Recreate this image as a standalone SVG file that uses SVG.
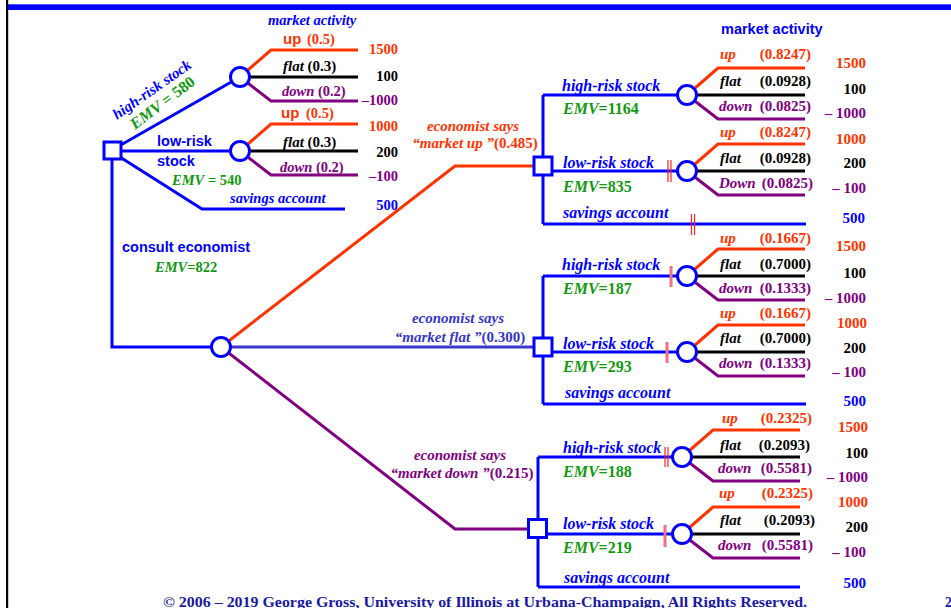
<svg xmlns="http://www.w3.org/2000/svg" xmlns:xlink="http://www.w3.org/1999/xlink" width="951" height="608" viewBox="0 0 951 608">
  <style>
    .ser { font-family: "Liberation Serif", "Times New Roman", serif; font-weight: bold; }
    .san { font-family: "Liberation Sans", Arial, sans-serif; font-weight: bold; }
    .it { font-style: italic; }
    .up { fill: #ff3300; }
    .fl { fill: #000000; }
    .dn { fill: #800080; }
    .bl { fill: #0000ff; }
    .gr { fill: #119911; }
    .mb { fill: #3535c8; }
    .ln { fill: none; stroke-width: 3; stroke-linejoin: miter; }
    .lb { stroke: #0000ff; }
    .lr { stroke: #ff3300; }
    .lk { stroke: #000000; }
    .lp { stroke: #800080; }
    .lm { stroke: #3838cc; }
    .dec { fill: #ffffff; stroke: #0000ff; stroke-width: 3; }
    .chn { fill: #ffffff; stroke: #0000ff; stroke-width: 3; }
    .tk2 { stroke: #ff2020; stroke-width: 1.2; }
    .tk1 { stroke: #f07088; stroke-width: 3; }
    .f14 { font-size: 14.5px; }
    .f15 { font-size: 15px; }
    .f16 { font-size: 16px; }
  </style>
  <defs>
    <!-- chance node with its up / flat / down outcome branches -->
    <g id="fan">
      <path class="ln lr" d="M0,0 L31,-27 L118,-27"/>
      <path class="ln lk" d="M0,0 L118,0"/>
      <path class="ln lp" d="M0,0 L31,24 L118,24"/>
      <circle class="chn" cx="0" cy="0" r="9.5"/>
    </g>
  </defs>

  <!-- page frame -->
  <rect x="6" y="0" width="2.2" height="608" fill="#000000"/>
  <rect x="8" y="4.3" width="943" height="5.7" fill="#0000ff"/>

  <!-- connectors -->
  <g id="connectors">
    <!-- first decision: invest directly -->
    <path class="ln lb" d="M112,150 L240,77"/>
    <path class="ln lb" d="M112,151 L240,151"/>
    <path class="ln lb" d="M112,152 L202,209 L345,209"/>
    <path class="ln lb" d="M112,151 L112,347 L221,347"/>
    <!-- economist forecast branches -->
    <path class="ln lr" d="M221,347 L455,166 L543,166"/>
    <path class="ln lm" d="M221,347 L543,347"/>
    <path class="ln lp" d="M221,347 L455,529 L537,529"/>
    <!-- decisions after "market up" -->
    <path class="ln lb" d="M543,95 L543,224 M543,95 L687,95 M543,171 L687,171 M543,224 L806,224"/>
    <!-- decisions after "market flat" -->
    <path class="ln lb" d="M543,276 L543,404 M543,276 L687,276 M543,352 L687,352 M543,404 L806,404"/>
    <!-- decisions after "market down" -->
    <path class="ln lb" d="M538,457 L538,587 M538,457 L682,457 M538,534 L682,534 M538,587 L800,587"/>
    <!-- pruned branch marks -->
    <path class="tk2" d="M668,160 V182 M671,160 V182 M691.5,214 V235 M694.5,214 V235 M665,447 V467 M668,447 V467"/>
    <path class="tk1" d="M671,266 V287 M667,342 V363 M665,525 V547"/>
  </g>

  <!-- decision nodes -->
  <g id="decision-root"><rect class="dec" x="104" y="142" width="17" height="17"/></g>
  <g id="decision-up"><rect class="dec" x="534" y="157" width="18" height="18"/></g>
  <g id="decision-flat"><rect class="dec" x="534" y="338" width="18" height="18"/></g>
  <g id="decision-down"><rect class="dec" x="528.5" y="519.5" width="18" height="18"/></g>

  <!-- forecast chance node -->
  <g id="chance-forecast"><circle class="chn" cx="221" cy="347" r="9.5"/></g>

  <!-- market chance nodes -->
  <g id="chance-a"><use xlink:href="#fan" href="#fan" x="240" y="77"/></g>
  <g id="chance-b"><use xlink:href="#fan" href="#fan" x="240" y="151"/></g>
  <g id="chance-1"><use xlink:href="#fan" href="#fan" x="687" y="95"/></g>
  <g id="chance-2"><use xlink:href="#fan" href="#fan" x="687" y="171"/></g>
  <g id="chance-3"><use xlink:href="#fan" href="#fan" x="687" y="276"/></g>
  <g id="chance-4"><use xlink:href="#fan" href="#fan" x="687" y="352"/></g>
  <g id="chance-5"><use xlink:href="#fan" href="#fan" x="682" y="457"/></g>
  <g id="chance-6"><use xlink:href="#fan" href="#fan" x="682" y="534"/></g>

  <!-- labels: direct investment -->
  <g id="labels-direct">
    <text class="ser it bl f14" x="268" y="25">market activity</text>
    <text class="ser it bl f15" transform="translate(117,120) rotate(-35)">high-risk stock</text>
    <text class="ser gr f16" transform="translate(135,130) rotate(-37)"><tspan class="it">EMV</tspan> = 580</text>
    <text class="san bl f14" x="157" y="146">low-risk</text>
    <text class="san bl f14" x="157" y="166">stock</text>
    <text class="ser gr f14" x="172" y="185"><tspan class="it">EMV</tspan> = 540</text>
    <text class="ser it bl f14" x="230" y="203">savings account</text>

    <text class="san up f15" x="283" y="44">up</text>
    <text class="ser up f14" x="307" y="44">(0.5)</text>
    <text class="ser fl f15" x="283" y="71"><tspan class="it">flat</tspan> (0.3)</text>
    <text class="ser dn f14" x="282" y="96"><tspan class="it">down</tspan> (0.2)</text>
    <text class="san up f15" x="281" y="118">up</text>
    <text class="ser up f14" x="306" y="118">(0.5)</text>
    <text class="ser fl f15" x="283" y="147"><tspan class="it">flat</tspan> (0.3)</text>
    <text class="ser dn f14" x="280" y="172"><tspan class="it">down</tspan> (0.2)</text>

    <g class="ser f14" text-anchor="end">
      <text class="up" x="398" y="54">1500</text>
      <text class="fl" x="398" y="81">100</text>
      <text class="dn" x="398" y="105">–1000</text>
      <text class="up" x="398" y="131">1000</text>
      <text class="fl" x="398" y="157">200</text>
      <text class="dn" x="398" y="181">–100</text>
      <text class="bl" x="398" y="210">500</text>
    </g>

    <text class="san bl f14" x="122" y="252">consult economist</text>
    <text class="ser gr f14" x="155" y="272"><tspan class="it">EMV</tspan>=822</text>
  </g>

  <!-- labels: economist forecasts -->
  <g id="labels-forecast" class="ser f15" text-anchor="middle">
    <text class="it up" x="473" y="131">economist says</text>
    <text class="up" x="475" y="148"><tspan class="it">“market up ”</tspan>(0.485)</text>
    <text class="it mb" x="458" y="323">economist says</text>
    <text class="mb" x="460" y="342"><tspan class="it">“market flat ”</tspan>(0.300)</text>
    <text class="it dn" x="460" y="460">economist says</text>
    <text class="dn" x="462" y="478"><tspan class="it">“market down ”</tspan>(0.215)</text>
  </g>

  <!-- labels: decisions after the forecast -->
  <g id="labels-decisions" class="ser f16">
    <text class="it bl" x="562" y="91">high-risk stock</text>
    <text class="gr" x="563" y="114"><tspan class="it">EMV</tspan>=1164</text>
    <text class="it bl" x="563" y="168">low-risk stock</text>
    <text class="gr" x="563" y="192"><tspan class="it">EMV</tspan>=835</text>
    <text class="it bl" x="563" y="218">savings account</text>

    <text class="it bl" x="562" y="270">high-risk stock</text>
    <text class="gr" x="563" y="294"><tspan class="it">EMV</tspan>=187</text>
    <text class="it bl" x="563" y="349">low-risk stock</text>
    <text class="gr" x="563" y="372"><tspan class="it">EMV</tspan>=293</text>
    <text class="it bl" x="565" y="398">savings account</text>

    <text class="it bl" x="563" y="453">high-risk stock</text>
    <text class="gr" x="563" y="477"><tspan class="it">EMV</tspan>=188</text>
    <text class="it bl" x="563" y="529">low-risk stock</text>
    <text class="gr" x="563" y="553"><tspan class="it">EMV</tspan>=219</text>
    <text class="it bl" x="564" y="583">savings account</text>
  </g>

  <!-- labels: posterior market outcomes -->
  <g id="labels-outcomes" class="ser f15">
    <text class="san bl f14" x="721" y="34">market activity</text>

    <text class="it up" x="720" y="59">up</text>
    <text class="it fl" x="720" y="86">flat</text>
    <text class="it dn" x="719" y="111">down</text>
    <text class="it up" x="720" y="137">up</text>
    <text class="it fl" x="720" y="163">flat</text>
    <text class="it dn" x="719" y="188">Down</text>

    <text class="it up" x="720" y="243">up</text>
    <text class="it fl" x="720" y="269">flat</text>
    <text class="it dn" x="719" y="293">down</text>
    <text class="it up" x="720" y="318">up</text>
    <text class="it fl" x="720" y="343">flat</text>
    <text class="it dn" x="719" y="368">down</text>

    <text class="it up" x="722" y="423">up</text>
    <text class="it fl" x="720" y="450">flat</text>
    <text class="it dn" x="718" y="473">down</text>
    <text class="it up" x="719" y="498">up</text>
    <text class="it fl" x="720" y="525">flat</text>
    <text class="it dn" x="718" y="550">down</text>

    <g text-anchor="end">
      <text class="up" x="811" y="59">(0.8247)</text>
      <text class="fl" x="811" y="86">(0.0928)</text>
      <text class="dn" x="811" y="111">(0.0825)</text>
      <text class="up" x="811" y="137">(0.8247)</text>
      <text class="fl" x="811" y="163">(0.0928)</text>
      <text class="dn" x="813" y="188">(0.0825)</text>

      <text class="up" x="811" y="243">(0.1667)</text>
      <text class="fl" x="811" y="269">(0.7000)</text>
      <text class="dn" x="811" y="293">(0.1333)</text>
      <text class="up" x="811" y="318">(0.1667)</text>
      <text class="fl" x="811" y="343">(0.7000)</text>
      <text class="dn" x="811" y="368">(0.1333)</text>

      <text class="up" x="812" y="423">(0.2325)</text>
      <text class="fl" x="810" y="450">(0.2093)</text>
      <text class="dn" x="812" y="473">(0.5581)</text>
      <text class="up" x="813" y="498">(0.2325)</text>
      <text class="fl" x="815" y="525">(0.2093)</text>
      <text class="dn" x="813" y="550">(0.5581)</text>

      <text class="up" x="866" y="68">1500</text>
      <text class="fl" x="866" y="94">100</text>
      <text class="dn" x="866" y="118">– 1000</text>
      <text class="up" x="866" y="144">1000</text>
      <text class="fl" x="866" y="168">200</text>
      <text class="dn" x="866" y="193">– 100</text>
      <text class="bl" x="865" y="223">500</text>

      <text class="up" x="866" y="251">1500</text>
      <text class="fl" x="866" y="278">100</text>
      <text class="dn" x="866" y="303">– 1000</text>
      <text class="up" x="867" y="328">1000</text>
      <text class="fl" x="866" y="353">200</text>
      <text class="dn" x="866" y="377">– 100</text>
      <text class="bl" x="866" y="406">500</text>

      <text class="up" x="868" y="432">1500</text>
      <text class="fl" x="868" y="458">100</text>
      <text class="dn" x="868" y="482">– 1000</text>
      <text class="up" x="868" y="507">1000</text>
      <text class="fl" x="868" y="532">200</text>
      <text class="dn" x="866" y="557">– 100</text>
      <text class="bl" x="866" y="588">500</text>
    </g>
  </g>

  <!-- footer -->
  <g id="footer" class="ser" style="fill:#1a1aa0; font-size:14px">
    <text x="163" y="607" textLength="644" lengthAdjust="spacingAndGlyphs">© 2006 – 2019 George Gross, University of Illinois at Urbana-Champaign, All Rights Reserved.</text>
    <text x="945" y="607">2</text>
  </g>
</svg>
